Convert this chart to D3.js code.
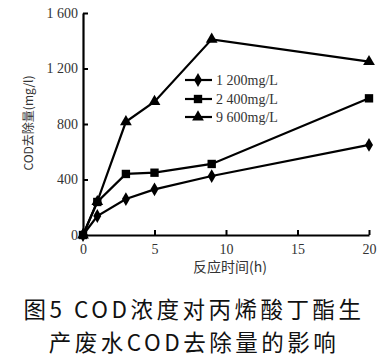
<!DOCTYPE html>
<html><head><meta charset="utf-8">
<script src="https://cdn.jsdelivr.net/npm/d3@7"></script>
<style>body{margin:0;background:#fff}</style>
</head><body>
<script>
const times = [0, 1, 3, 5, 9, 20];
const seriesNames = ["1 200mg/L", "2 400mg/L", "9 600mg/L"];
const s1200 = [0, 137, 259, 329, 425, 649];
const s2400 = [0, 238, 440, 449, 512, 985];
const s9600 = [0, 240, 816, 961, 1410, 1249];
const xTicks = [0, 5, 10, 15, 20];
const yTicks = [0, 400, 800, 1200, 1600];
const yTickLabels = ["0", "400", "800", "1 200", "1 600"];
const xTitle = "反应时间(h)";
const yTitle = "COD去除量(mg/l)";
const caption = ["图5 COD浓度对丙烯酸丁酯生", "产废水COD去除量的影响"];

const W = 387, H = 364;
const svg = d3.select("body").append("svg").attr("width", W).attr("height", H);
const x = d3.scaleLinear().domain([0, 20]).range([83, 369]);
const y = d3.scaleLinear().domain([0, 1600]).range([235, 13]);
const serif = "'Liberation Serif','DejaVu Serif',serif";
const cjk = "'Noto Sans CJK SC','Noto Sans',sans-serif";

// axes
const xa = svg.append("g").attr("transform", "translate(0,235)")
  .call(d3.axisBottom(x).tickValues(xTicks).tickSizeInner(-5).tickSizeOuter(0).tickPadding(9));
const ya = svg.append("g").attr("transform", "translate(83,0)")
  .call(d3.axisLeft(y).tickValues(yTicks).tickFormat((d,i)=>yTickLabels[i]).tickSizeInner(-5).tickSizeOuter(0).tickPadding(5));
[xa, ya].forEach(a => {
  a.select(".domain").attr("stroke", "#000").attr("stroke-width", 2.2);
  a.selectAll(".tick line").attr("stroke", "#000").attr("stroke-width", 2);
  a.selectAll("text").attr("font-family", serif).attr("font-size", 14).attr("fill", "#333");
});

const seriesData = [s1200, s2400, s9600];
const symbols = [d3.symbolDiamond, d3.symbolSquare, d3.symbolTriangle];
const symSizes = [55, 70, 60];
const line = d3.line().x((d,i)=>x(times[i])).y(d=>y(d));
seriesData.forEach((s, k) => {
  svg.append("path").attr("d", line(s)).attr("fill", "none").attr("stroke", "#000").attr("stroke-width", 2.2);
  svg.selectAll(null).data(s).enter().append("path")
    .attr("d", d3.symbol().type(symbols[k]).size(symSizes[k]))
    .attr("transform", (d,i)=>`translate(${x(times[i])},${y(d)})`)
    .attr("fill", "#000");
});

// legend
const legY = [80, 99, 117];
seriesNames.forEach((n, k) => {
  svg.append("line").attr("x1", 185).attr("x2", 212).attr("y1", legY[k]).attr("y2", legY[k])
    .attr("stroke", "#000").attr("stroke-width", 2.2);
  svg.append("path").attr("d", d3.symbol().type(symbols[k]).size(symSizes[k])())
    .attr("transform", `translate(198,${legY[k]})`).attr("fill", "#000");
  svg.append("text").attr("x", 216).attr("y", legY[k]).attr("dy", "0.35em")
    .attr("font-family", serif).attr("font-size", 14).attr("fill", "#333").text(n);
});

// axis titles
svg.append("text").attr("x", 230).attr("y", 272).attr("text-anchor", "middle")
  .attr("font-family", cjk).attr("font-size", 14).attr("fill", "#333").text(xTitle);
svg.append("text").attr("transform", "translate(33,123) rotate(-90)").attr("text-anchor", "middle")
  .attr("font-family", cjk).attr("font-size", 12).attr("fill", "#333").text(yTitle);

// caption
caption.forEach((c, i) => {
  svg.append("text").attr("x", 194).attr("y", 318 + i * 33).attr("text-anchor", "middle")
    .attr("font-family", cjk).attr("font-size", 22.5).attr("letter-spacing", 3.5)
    .attr("fill", "#111").text(c);
});
</script>
</body></html>
